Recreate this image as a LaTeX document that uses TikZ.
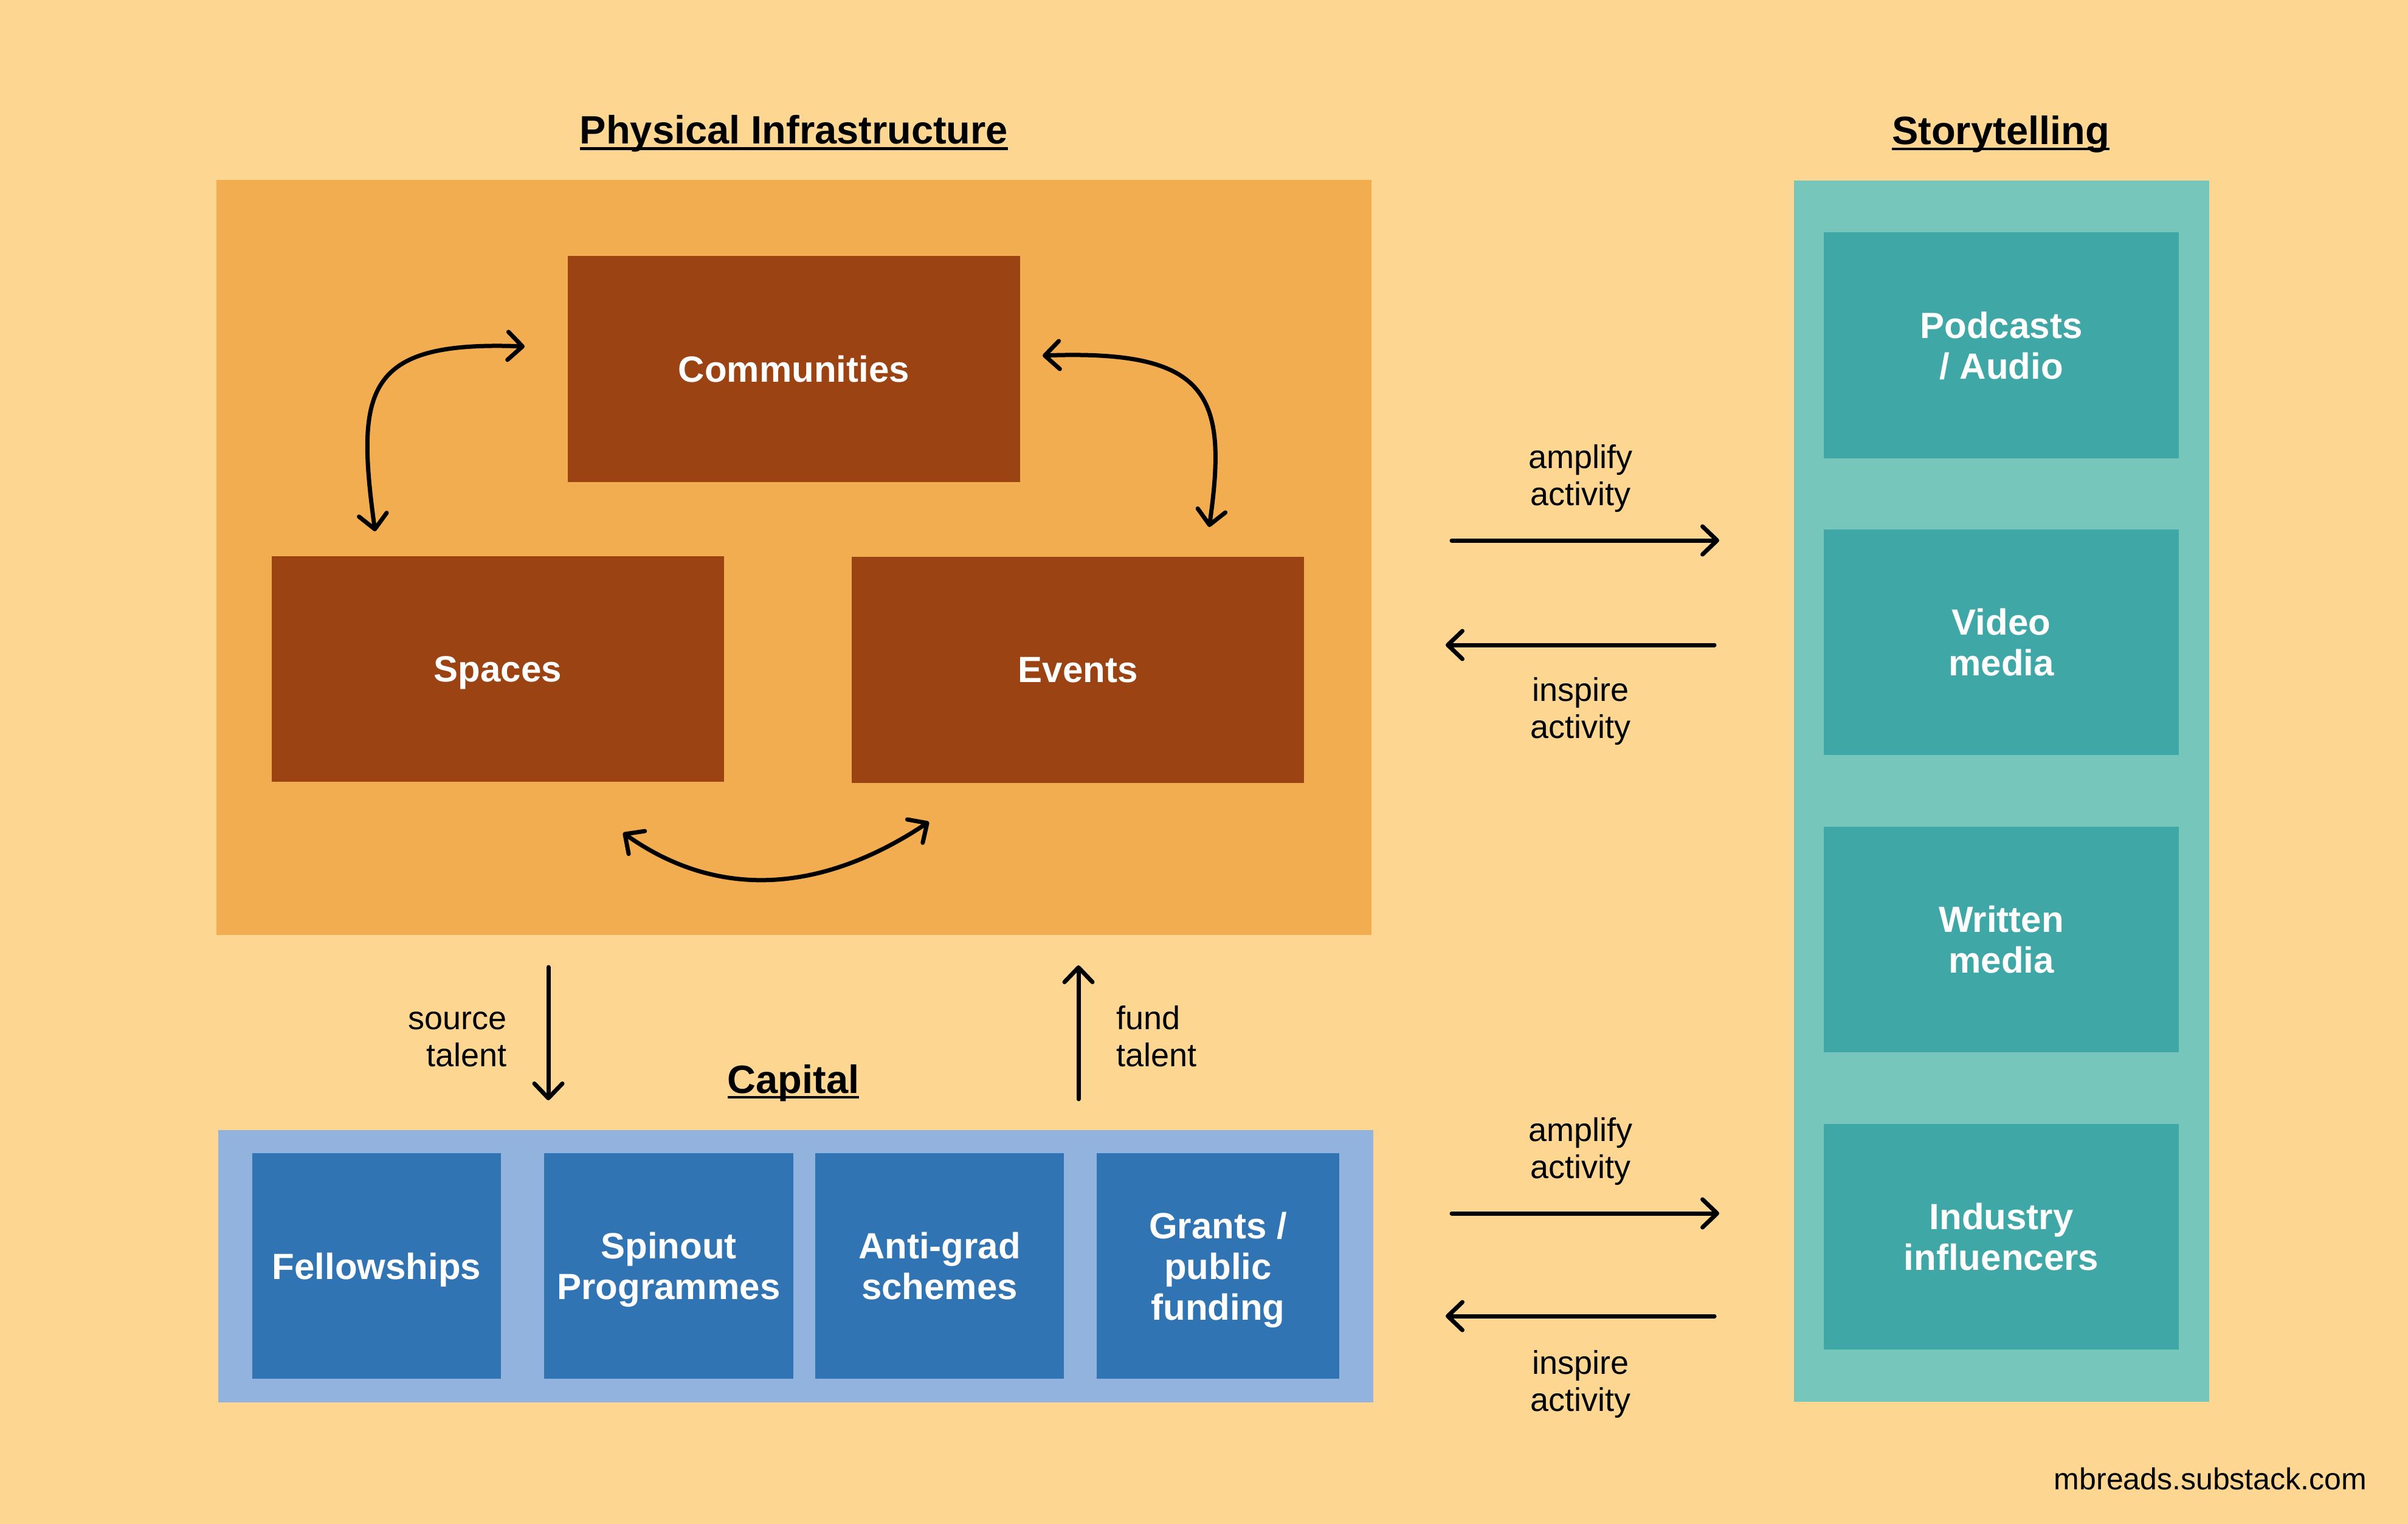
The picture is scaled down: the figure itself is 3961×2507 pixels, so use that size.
\documentclass[tikz,border=0pt]{standalone}
\usepackage{fontspec}
\setmainfont{Liberation Sans}
\usetikzlibrary{arrows.meta}
\definecolor{bgc}{HTML}{FDD692}
\definecolor{physc}{HTML}{F3AD51}
\definecolor{brownc}{HTML}{9B4312}
\definecolor{tealL}{HTML}{77C6BC}
\definecolor{tealD}{HTML}{3FA8A6}
\definecolor{blueL}{HTML}{92B3DE}
\definecolor{blueD}{HTML}{3174B3}
\begin{document}
\begin{tikzpicture}[x=1pt,y=-1pt,
  every node/.style={inner sep=0pt, outer sep=0pt},
  area/.style={fill=#1, draw=none},
  card/.style={fill=#1, draw=none, text=white, align=center, text depth=0pt,
    font=\fontsize{60}{67}\selectfont\bfseries},
  ttl/.style={anchor=base, font=\fontsize{65}{72}\selectfont\bfseries},
  uline/.style={line width=4.5pt},
  lbl/.style={font=\fontsize{54}{61}\selectfont},
  tipb/.tip={Straight Barb[length=24pt,width=46pt,round]},
  arr/.style={line width=7pt, line cap=round, -tipb},
  darr/.style={line width=7pt, line cap=round, tipb-tipb}]
\useasboundingbox (0,0) rectangle (3961,2507);
\fill[bgc] (0,0) rectangle (3961,2507);

% Physical Infrastructure
\node[area=physc, minimum width=1900pt, minimum height=1242pt] (phys) at (1306,917) {};
\node[card=brownc, minimum width=744pt, minimum height=372pt] (comm) at (1306,607) {Communities};
\node[card=brownc, minimum width=744pt, minimum height=371pt] (spaces) at (819,1100.5) {Spaces};
\node[card=brownc, minimum width=744pt, minimum height=372pt] (events) at (1773,1102) {Events};
\node[ttl] (tphys) at (1306,237) {Physical Infrastructure};
\draw[uline] ([yshift=-7.5pt]tphys.base west) -- ([yshift=-7.5pt]tphys.base east);

% Storytelling
\node[area=tealL, minimum width=683pt, minimum height=2009pt] (story) at (3292.5,1301.5) {};
\node[card=tealD, minimum width=584pt, minimum height=372pt] (pod) at (3292,568) {Podcasts\\/ Audio};
\node[card=tealD, minimum width=584pt, minimum height=371pt] (video) at (3292,1056.5) {Video\\media};
\node[card=tealD, minimum width=584pt, minimum height=371pt] (written) at (3292,1545.5) {Written\\media};
\node[card=tealD, minimum width=584pt, minimum height=371pt] (industry) at (3292,2034.5) {Industry\\influencers};
\node[ttl] (tstory) at (3291,238) {Storytelling};
\draw[uline] ([yshift=-7pt]tstory.base west) -- ([yshift=-7pt]tstory.base east);

% Capital
\node[area=blueL, minimum width=1900pt, minimum height=448pt] (cap) at (1309,2083) {};
\node[card=blueD, minimum width=409pt, minimum height=371pt] (fellow) at (619.5,2082.5) {Fellowships};
\node[card=blueD, minimum width=410pt, minimum height=371pt] (spin) at (1100,2082.5) {Spinout\\Programmes};
\node[card=blueD, minimum width=409pt, minimum height=371pt] (anti) at (1545.5,2082.5) {Anti-grad\\schemes};
\node[card=blueD, minimum width=399pt, minimum height=371pt] (grants) at (2003.5,2082.5) {Grants /\\public\\funding};
\node[ttl] (tcap) at (1305,1798) {Capital};
\draw[uline] ([yshift=-7pt]tcap.base west) -- ([yshift=-7pt]tcap.base east);

% curved arrows inside physical infrastructure
\coordinate (ls) at (617,874);
\coordinate (lc) at (863,570);
\coordinate (rc) at (1715,585);
\coordinate (re) at (1989,867);
\coordinate (bs) at (1025,1370);
\coordinate (be) at (1528,1352);
\draw[darr] (ls) .. controls (585,640) and (600,560) .. (lc);
\draw[darr] (re) .. controls (2020,650) and (1990,575) .. (rc);
\draw[darr] (bs) .. controls (1180,1480) and (1350,1470) .. (be);

% vertical arrows
\coordinate (s1) at (902,1591);
\coordinate (s2) at (902,1810);
\coordinate (f1) at (1774,1808);
\coordinate (f2) at (1774,1588);
\draw[arr] (s1) -- (s2);
\draw[arr] (f1) -- (f2);
\node[lbl, align=right, anchor=north east] (lsrc) at (834,1650.6) {\strut source\\\strut talent};
\node[lbl, align=left, anchor=north west] (lfund) at (1836,1650.6) {\strut fund\\\strut talent};

% horizontal arrows
\coordinate (a1s) at (2388,889);
\coordinate (a1e) at (2828,889);
\coordinate (i1s) at (2820,1061);
\coordinate (i1e) at (2378,1061);
\coordinate (a2s) at (2388,1996);
\coordinate (a2e) at (2828,1996);
\coordinate (i2s) at (2820,2165);
\coordinate (i2e) at (2378,2165);
\draw[arr] (a1s) -- (a1e);
\draw[arr] (i1s) -- (i1e);
\draw[arr] (a2s) -- (a2e);
\draw[arr] (i2s) -- (i2e);
\node[lbl, align=center, anchor=north] (la1) at (2600,727.3) {\strut amplify\\\strut activity};
\node[lbl, align=center, anchor=north] (li1) at (2600,1110.3) {\strut inspire\\\strut activity};
\node[lbl, align=center, anchor=north] (la2) at (2600,1834.3) {\strut amplify\\\strut activity};
\node[lbl, align=center, anchor=north] (li2) at (2600,2217.3) {\strut inspire\\\strut activity};

\node[anchor=base east, font=\fontsize{50}{56}\selectfont] (credit) at (3893,2450) {mbreads.substack.com};
\end{tikzpicture}
\end{document}
